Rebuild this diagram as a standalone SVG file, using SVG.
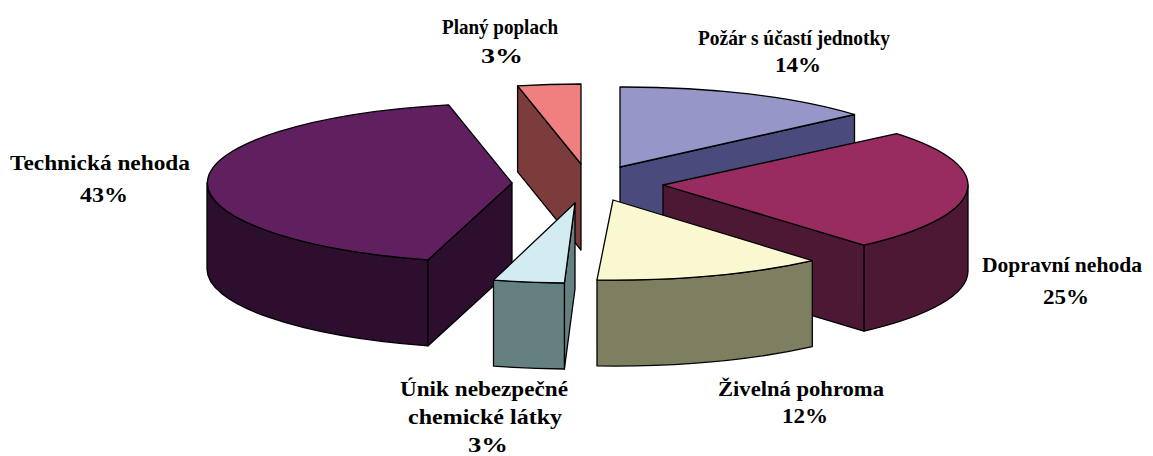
<svg xmlns="http://www.w3.org/2000/svg" width="1153" height="456" viewBox="0 0 1153 456">
<style>
  .e { stroke: #000; stroke-width: 1.3; stroke-linejoin: round; }
  .lbl { font-family: "Liberation Serif", "Times New Roman", serif; font-weight: bold; font-size: 21px; fill: #000; text-anchor: middle; }
</style>
<rect width="1153" height="456" fill="#fff"/>
<g id="slice-plany">
  <path class="e" fill="#7C3C3C" d="M581,164 L517.6,85.8 L517.6,171.8 L581,250 Z"/>
  <path class="e" fill="#F08080" d="M581,164 L517.6,85.8 A305,80 0 0 1 581,84 Z"/>
</g>
<g id="slice-pozar">
  <path class="e" fill="#4A4A7C" d="M620,167 L854.5,114.5 L854.5,200.5 L620,253 Z"/>
  <path class="e" fill="#9696C8" d="M620,167 L620,87 A305,80 0 0 1 854.5,114.5 Z"/>
</g>
<g id="slice-technicka">
  <path class="e" fill="#2E0E2E" d="M427.9,259.9 A305,80 0 0 1 207,183 L207,269 A305,80 0 0 0 427.9,345.9 Z"/>
  <path class="e" fill="#2E0E2E" d="M512,183 L427.9,259.9 L427.9,345.9 L512,269 Z"/>
  <path class="e" fill="#602060" d="M512,183 L427.9,259.9 A305,80 0 0 1 448.6,104.8 Z"/>
</g>
<g id="slice-dopravni">
  <path class="e" fill="#4C1834" d="M968,185 A305,80 0 0 1 863.9,245.2 L863.9,331.2 A305,80 0 0 0 968,271 Z"/>
  <path class="e" fill="#4C1834" d="M663,185 L863.9,245.2 L863.9,331.2 L663,271 Z"/>
  <path class="e" fill="#982C60" d="M663,185 L896.6,133.6 A305,80 0 0 1 863.9,245.2 Z"/>
</g>
<g id="slice-unik">
  <path class="e" fill="#648080" d="M575,203 L564.4,283 L564.4,369 L575,289 Z"/>
  <path class="e" fill="#648080" d="M564.4,283 A305,80 0 0 1 493.5,280.1 L493.5,366.1 A305,80 0 0 0 564.4,369 Z"/>
  <path class="e" fill="#D2ECF2" d="M575,203 L564.4,283 A305,80 0 0 1 493.5,280.1 Z"/>
</g>
<g id="slice-zivelna">
  <path class="e" fill="#7E7E60" d="M812.3,260.6 A305,80 0 0 1 597,279.9 L597,365.9 A305,80 0 0 0 812.3,346.6 Z"/>
  <path class="e" fill="#FAF8D0" d="M613,200 L812.3,260.6 A305,80 0 0 1 597,279.9 Z"/>
</g>
<g id="labels">
  <g id="label-plany">
    <text class="lbl" x="500" y="34" textLength="116" lengthAdjust="spacingAndGlyphs">Planý poplach</text>
    <text class="lbl" x="502" y="63" textLength="42" lengthAdjust="spacingAndGlyphs">3%</text>
  </g>
  <g id="label-pozar">
    <text class="lbl" x="794" y="45" textLength="192" lengthAdjust="spacingAndGlyphs">Požár s účastí jednotky</text>
    <text class="lbl" x="798" y="72" textLength="46" lengthAdjust="spacingAndGlyphs">14%</text>
  </g>
  <g id="label-technicka">
    <text class="lbl" x="100" y="170" textLength="180" lengthAdjust="spacingAndGlyphs">Technická nehoda</text>
    <text class="lbl" x="104" y="202" textLength="48" lengthAdjust="spacingAndGlyphs">43%</text>
  </g>
  <g id="label-dopravni">
    <text class="lbl" x="1062" y="272" textLength="160" lengthAdjust="spacingAndGlyphs">Dopravní nehoda</text>
    <text class="lbl" x="1066" y="304" textLength="46" lengthAdjust="spacingAndGlyphs">25%</text>
  </g>
  <g id="label-unik">
    <text class="lbl" x="484" y="396" textLength="168" lengthAdjust="spacingAndGlyphs">Únik nebezpečné</text>
    <text class="lbl" x="485" y="424" textLength="154" lengthAdjust="spacingAndGlyphs">chemické látky</text>
    <text class="lbl" x="488" y="452" textLength="40" lengthAdjust="spacingAndGlyphs">3%</text>
  </g>
  <g id="label-zivelna">
    <text class="lbl" x="801" y="396" textLength="166" lengthAdjust="spacingAndGlyphs">Živelná pohroma</text>
    <text class="lbl" x="805" y="423" textLength="46" lengthAdjust="spacingAndGlyphs">12%</text>
  </g>
</g>
</svg>
